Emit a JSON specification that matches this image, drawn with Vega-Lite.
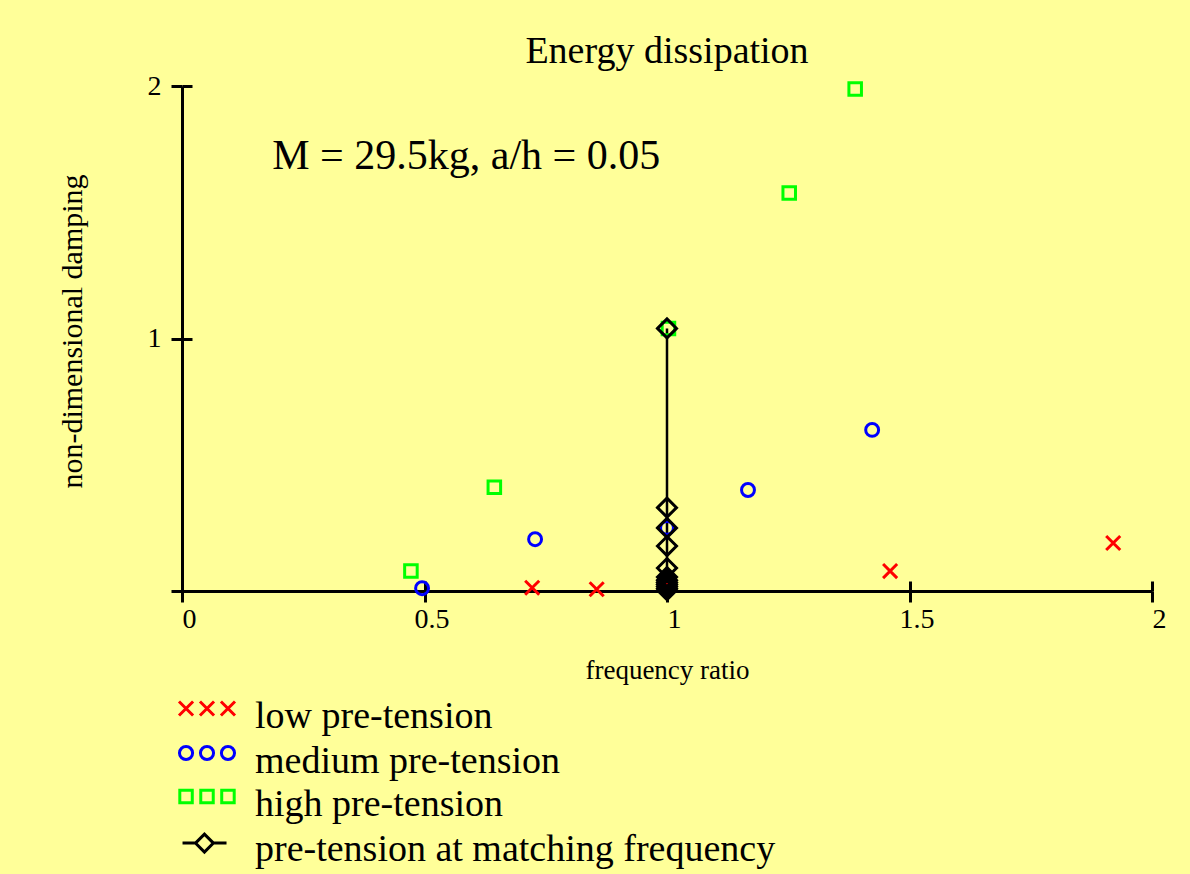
{
  "$schema": "https://vega.github.io/schema/vega-lite/v6.json",
  "width": 970,
  "height": 505,
  "autosize": {"type": "none"},
  "padding": {"left": 182, "top": 86, "right": 38, "bottom": 283},
  "background": "#FFFF99",
  "config": {"view": {"stroke": null}, "font": "Liberation Serif"},
  "title": {"text": "Energy dissipation", "font": "Liberation Serif", "fontSize": 38, "fontWeight": "normal", "color": "black", "anchor": "middle", "baseline": "alphabetic", "offset": -29},
  "datasets": {
    "pts": [
      {"series": "low pre-tension", "fr": 0.722, "damp": 0.013},
      {"series": "low pre-tension", "fr": 0.855, "damp": 0.007},
      {"series": "low pre-tension", "fr": 1.002, "damp": 0.036},
      {"series": "low pre-tension", "fr": 1.46, "damp": 0.079},
      {"series": "low pre-tension", "fr": 1.92, "damp": 0.19},
      {"series": "medium pre-tension", "fr": 0.495, "damp": 0.011},
      {"series": "medium pre-tension", "fr": 0.728, "damp": 0.205},
      {"series": "medium pre-tension", "fr": 1.0, "damp": 0.25},
      {"series": "medium pre-tension", "fr": 1.167, "damp": 0.4},
      {"series": "medium pre-tension", "fr": 1.423, "damp": 0.638},
      {"series": "high pre-tension", "fr": 0.472, "damp": 0.079},
      {"series": "high pre-tension", "fr": 0.644, "damp": 0.411},
      {"series": "high pre-tension", "fr": 1.003, "damp": 1.04},
      {"series": "high pre-tension", "fr": 1.252, "damp": 1.576},
      {"series": "high pre-tension", "fr": 1.388, "damp": 1.988},
      {"series": "pre-tension at matching frequency", "fr": 1.0, "damp": 0.003},
      {"series": "pre-tension at matching frequency", "fr": 1.0, "damp": 0.01},
      {"series": "pre-tension at matching frequency", "fr": 1.0, "damp": 0.018},
      {"series": "pre-tension at matching frequency", "fr": 1.0, "damp": 0.026},
      {"series": "pre-tension at matching frequency", "fr": 1.0, "damp": 0.034},
      {"series": "pre-tension at matching frequency", "fr": 1.0, "damp": 0.043},
      {"series": "pre-tension at matching frequency", "fr": 1.0, "damp": 0.055},
      {"series": "pre-tension at matching frequency", "fr": 1.0, "damp": 0.091},
      {"series": "pre-tension at matching frequency", "fr": 1.0, "damp": 0.178},
      {"series": "pre-tension at matching frequency", "fr": 1.0, "damp": 0.25},
      {"series": "pre-tension at matching frequency", "fr": 1.0, "damp": 0.33},
      {"series": "pre-tension at matching frequency", "fr": 1.0, "damp": 1.04}
    ],
    "note": [
      {"fr": 0.186, "damp": 1.671, "label": "M = 29.5kg, a/h = 0.05"}
    ]
  },
  "resolve": {"axis": {"x": "independent", "y": "independent"}},
  "layer": [
    {
      "data": {"name": "pts"},
      "transform": [{"filter": "datum.series == 'pre-tension at matching frequency'"}],
      "mark": {"type": "line", "color": "black", "strokeWidth": 2.5},
      "encoding": {
        "x": {"field": "fr", "type": "quantitative", "scale": {"domain": [0, 2], "nice": false, "zero": false},
              "axis": {"orient": "bottom", "values": [0, 0.5, 1, 1.5, 2], "tickSize": -10, "tickWidth": 3, "tickColor": "black", "labels": false, "domain": false, "grid": false, "title": null}},
        "y": {"field": "damp", "type": "quantitative", "scale": {"domain": [0, 2], "nice": false, "zero": false},
              "axis": {"orient": "left", "values": [0, 1, 2], "tickSize": -10, "tickWidth": 3, "tickColor": "black", "labels": false, "domain": false, "grid": false, "title": null}},
        "order": {"field": "damp", "type": "quantitative"}
      }
    },
    {
      "data": {"name": "pts"},
      "mark": {"type": "point", "filled": false, "strokeWidth": 3, "size": 361, "opacity": 1},
      "encoding": {
        "x": {"field": "fr", "type": "quantitative", "scale": {"domain": [0, 2], "nice": false, "zero": false},
              "axis": {"orient": "bottom", "values": [0, 0.5, 1, 1.5, 2], "format": "~g", "tickSize": 11, "tickWidth": 3, "tickColor": "black", "domainColor": "black", "domainWidth": 3, "grid": false,
                       "labelFont": "Liberation Serif", "labelFontSize": 28, "labelColor": "black", "labelOffset": 7, "labelPadding": 3, "labelFlush": false, "labelOverlap": false,
                       "title": "frequency ratio", "titleFont": "Liberation Serif", "titleFontSize": 27, "titleFontWeight": "normal", "titleColor": "black", "titlePadding": 24}},
        "y": {"field": "damp", "type": "quantitative", "scale": {"domain": [0, 2], "nice": false, "zero": false},
              "axis": {"orient": "left", "values": [0, 1, 2], "format": "~g", "labelExpr": "datum.value == 0 ? '' : datum.label", "tickSize": 11, "tickWidth": 3, "tickColor": "black", "domainColor": "black", "domainWidth": 3, "grid": false,
                       "labelFont": "Liberation Serif", "labelFontSize": 28, "labelColor": "black", "labelPadding": 10, "labelFlush": false, "labelOverlap": false,
                       "title": "non-dimensional damping", "titleFont": "Liberation Serif", "titleFontSize": 30, "titleFontWeight": "normal", "titleColor": "black", "titlePadding": 60, "titleY": 245}},
        "color": {"field": "series", "type": "nominal",
                  "scale": {"domain": ["low pre-tension", "medium pre-tension", "high pre-tension", "pre-tension at matching frequency"], "range": ["#FF0000", "#0000FF", "#00FF00", "#000000"]},
                  "legend": {"orient": "none", "legendX": 6, "legendY": 612, "title": null, "padding": 0,
                             "labelFont": "Liberation Serif", "labelFontSize": 38, "labelColor": "black", "labelOffset": 29, "labelLimit": 0, "rowPadding": 3.5,
                             "symbolSize": 1024, "symbolStrokeWidth": 3, "symbolFillColor": "transparent",
                             "encoding": {"symbols": {
                               "fill": {"value": "transparent"},
                               "size": {"value": 1024},
                               "shape": {"value": {"expr": "datum.value == 'low pre-tension' ? 'M-1.75,-0.97L-0.87,-0.09M-1.75,-0.09L-0.87,-0.97M-0.44,-0.97L0.44,-0.09M-0.44,-0.09L0.44,-0.97M0.87,-0.97L1.75,-0.09M0.87,-0.09L1.75,-0.97' : datum.value == 'medium pre-tension' ? 'M-1.72,-0.53A0.41,0.41 0 1,0 -0.9,-0.53A0.41,0.41 0 1,0 -1.72,-0.53ZM-0.41,-0.53A0.41,0.41 0 1,0 0.41,-0.53A0.41,0.41 0 1,0 -0.41,-0.53ZM0.9,-0.53A0.41,0.41 0 1,0 1.72,-0.53A0.41,0.41 0 1,0 0.9,-0.53Z' : datum.value == 'high pre-tension' ? 'M-1.7,-0.92H-0.92V-0.14H-1.7ZM-0.39,-0.92H0.39V-0.14H-0.39ZM0.92,-0.92H1.7V-0.14H0.92Z' : 'M-1.53,-0.4L-0.72,-0.4M0.4,-0.4L1.22,-0.4M-0.72,-0.4L-0.16,-0.96L0.4,-0.4L-0.16,0.16Z'"}}
                             }}}},
        "shape": {"field": "series", "type": "nominal",
                  "scale": {"domain": ["high pre-tension", "low pre-tension", "medium pre-tension", "pre-tension at matching frequency"], "range": ["M-0.66,-0.66H0.66V0.66H-0.66Z", "M-0.74,-0.74L0.74,0.74M-0.74,0.74L0.74,-0.74", "M-0.68,0A0.68,0.68 0 1,0 0.68,0A0.68,0.68 0 1,0 -0.68,0Z", "diamond"]},
                  "legend": null}
      }
    },
    {
      "data": {"name": "note"},
      "mark": {"type": "text", "align": "left", "baseline": "alphabetic", "font": "Liberation Serif", "fontSize": 42, "color": "black"},
      "encoding": {
        "x": {"field": "fr", "type": "quantitative", "scale": {"domain": [0, 2], "nice": false, "zero": false}, "axis": null},
        "y": {"field": "damp", "type": "quantitative", "scale": {"domain": [0, 2], "nice": false, "zero": false}, "axis": null},
        "text": {"field": "label", "type": "nominal"}
      }
    }
  ]
}
